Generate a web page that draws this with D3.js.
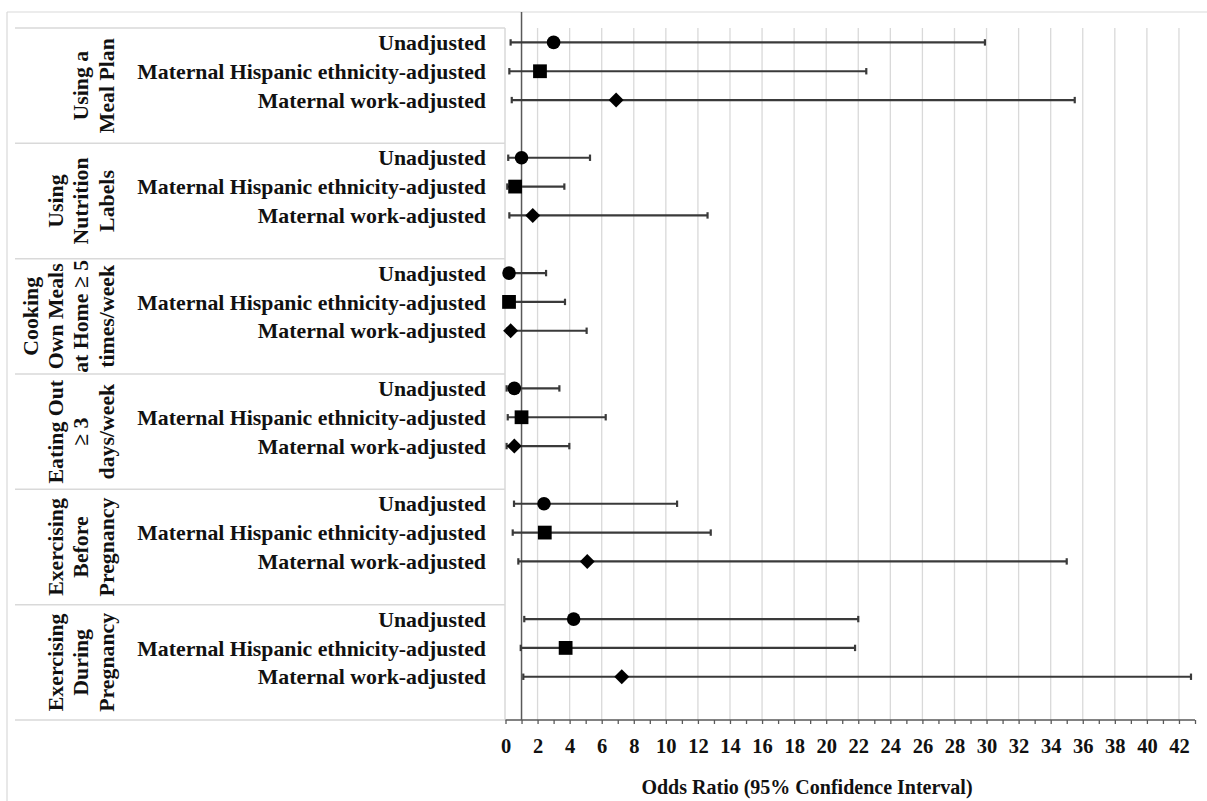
<!DOCTYPE html>
<html><head><meta charset="utf-8">
<script src="https://cdn.jsdelivr.net/npm/d3@7"></script>
<style>
body{margin:0;background:#fff}
svg{display:block}
text{font-family:"Liberation Serif","Times New Roman",serif;font-weight:bold;fill:#111}
</style>
</head><body><svg id="chart" width="1207" height="801"></svg>
<script>
// ---- data ----
const groupLabelLines = [
  ["Using a", "Meal Plan"],
  ["Using", "Nutrition", "Labels"],
  ["Cooking", "Own Meals", "at Home \u2265 5", "times/week"],
  ["Eating Out", "\u2265 3", "days/week"],
  ["Exercising", "Before", "Pregnancy"],
  ["Exercising", "During", "Pregnancy"]
];
const models = ["Unadjusted", "Maternal Hispanic ethnicity-adjusted", "Maternal work-adjusted"];
const modelShapes = ["circle", "square", "diamond"];
const oddsRatio = [
  [3.0, 2.15, 6.9],
  [1.0, 0.6, 1.7],
  [0.22, 0.22, 0.32],
  [0.55, 1.0, 0.55],
  [2.4, 2.45, 5.1],
  [4.25, 3.75, 7.25]
];
const lowerCI = [
  [0.32, 0.24, 0.39],
  [0.17, 0.11, 0.24],
  [0.05, 0.05, 0.1],
  [0.07, 0.14, 0.07],
  [0.53, 0.45, 0.8],
  [1.17, 0.95, 1.11]
];
const upperCI = [
  [29.9, 22.5, 35.5],
  [5.27, 3.67, 12.6],
  [2.53, 3.71, 5.06],
  [3.36, 6.25, 3.98],
  [10.7, 12.8, 35.0],
  [22.0, 21.8, 42.75]
];
const xTickLabels = d3.range(0, 43, 2);
const xMinorTicks = d3.range(0, 44, 1);
const axisTitle = "Odds Ratio (95% Confidence Interval)";
const referenceOR = 1;

// ---- layout ----
const svg = d3.select("#chart");
const plotTop = 28, plotBottom = 720, tableLeft = 15, tableRight = 505;
const x = d3.scaleLinear().domain([0, 43]).range([505.5, 1195]);
const slotIds = [];
groupLabelLines.forEach((g, gi) => { for (let s = 0; s < 4; s++) slotIds.push(gi + "-" + s); });
const y = d3.scaleBand().domain(slotIds).range([plotTop, plotBottom]).padding(0);
const bw = y.bandwidth();
const rowY = (gi, mi) => y(gi + "-" + mi) + bw / 2;

const light = "#d9d9d9";

// outer border
svg.append("line").attr("x1", 7).attr("x2", 1207).attr("y1", 12).attr("y2", 12).attr("stroke", light).attr("stroke-width", 1.2);
svg.append("line").attr("x1", 7).attr("x2", 7).attr("y1", 12).attr("y2", 801).attr("stroke", light).attr("stroke-width", 1.2);

// gridlines
svg.append("g").selectAll("line").data(xTickLabels.filter(d => d > 0)).join("line")
  .attr("x1", d => x(d)).attr("x2", d => x(d)).attr("y1", plotTop).attr("y2", plotBottom)
  .attr("stroke", light).attr("stroke-width", 1.3);

// table lines
const bounds = groupLabelLines.map((g, gi) => y(gi + "-0")).concat([plotBottom]);
svg.append("g").selectAll("line").data(bounds).join("line")
  .attr("x1", tableLeft).attr("x2", tableRight).attr("y1", d => d).attr("y2", d => d)
  .attr("stroke", light).attr("stroke-width", 1.5);
svg.append("line").attr("x1", tableRight).attr("x2", tableRight).attr("y1", plotTop).attr("y2", plotBottom)
  .attr("stroke", light).attr("stroke-width", 1.5);

// group labels
groupLabelLines.forEach((lines, gi) => {
  const gy = (bounds[gi] + bounds[gi + 1]) / 2;
  const n = lines.length;
  lines.forEach((ln, i) => {
    const cx = 106 - (n - 1 - i) * 25.3;
    svg.append("text")
      .attr("transform", `translate(${cx},${gy}) rotate(-90)`)
      .attr("text-anchor", "middle").attr("dy", "0.35em")
      .style("font-size", "21.8px").text(ln);
  });
});

// row labels
groupLabelLines.forEach((g, gi) => {
  models.forEach((m, mi) => {
    svg.append("text").attr("x", 486).attr("y", rowY(gi, mi)).attr("dy", "0.35em")
      .attr("text-anchor", "end").style("font-size", "21.8px").text(m);
  });
});

// x axis
const axis = d3.axisBottom(x).tickValues(xMinorTicks).tickSize(4).tickSizeOuter(0).tickPadding(14)
  .tickFormat(d => (d % 2 === 0 && d <= 42) ? d : "");
const ax = svg.append("g").attr("transform", `translate(0,${plotBottom})`).call(axis);
ax.select(".domain").attr("stroke", "#595959").attr("stroke-width", 1.5).attr("d", `M${x(0)},0H${x(43)}`);
ax.selectAll(".tick line").attr("stroke", "#595959").attr("stroke-width", 1.3);
ax.selectAll(".tick text").attr("fill", "#111")
  .style("font-family", '"Liberation Serif","Times New Roman",serif')
  .style("font-weight", "bold").style("font-size", "20.5px");

// reference vertical axis at OR = 1
svg.append("line").attr("x1", x(referenceOR)).attr("x2", x(referenceOR)).attr("y1", 12).attr("y2", plotBottom)
  .attr("stroke", "#595959").attr("stroke-width", 1.5);

// axis title
svg.append("text").attr("x", 807).attr("y", 794).attr("text-anchor", "middle")
  .style("font-size", "20px").text(axisTitle);

// error bars + markers
const barColor = "#3a3a3a";
const symbols = {
  circle: d3.symbol().type(d3.symbolCircle).size(145),
  square: d3.symbol().type(d3.symbolSquare).size(190),
  diamond: d3.symbol().type(d3.symbolSquare).size(112)
};
const eb = svg.append("g");
groupLabelLines.forEach((g, gi) => {
  models.forEach((m, mi) => {
    const yy = rowY(gi, mi);
    const lo = x(lowerCI[gi][mi]), hi = x(upperCI[gi][mi]);
    eb.append("line").attr("x1", lo).attr("x2", hi).attr("y1", yy).attr("y2", yy)
      .attr("stroke", barColor).attr("stroke-width", 2.2);
    [lo, hi].forEach(cx => eb.append("line").attr("x1", cx).attr("x2", cx).attr("y1", yy - 3.2).attr("y2", yy + 3.2)
      .attr("stroke", barColor).attr("stroke-width", 2.2));
    const shape = modelShapes[mi];
    eb.append("path").attr("d", symbols[shape]())
      .attr("transform", `translate(${x(oddsRatio[gi][mi])},${yy})` + (shape === "diamond" ? " rotate(45)" : ""))
      .attr("fill", "#000");
  });
});
</script>
</body></html>
